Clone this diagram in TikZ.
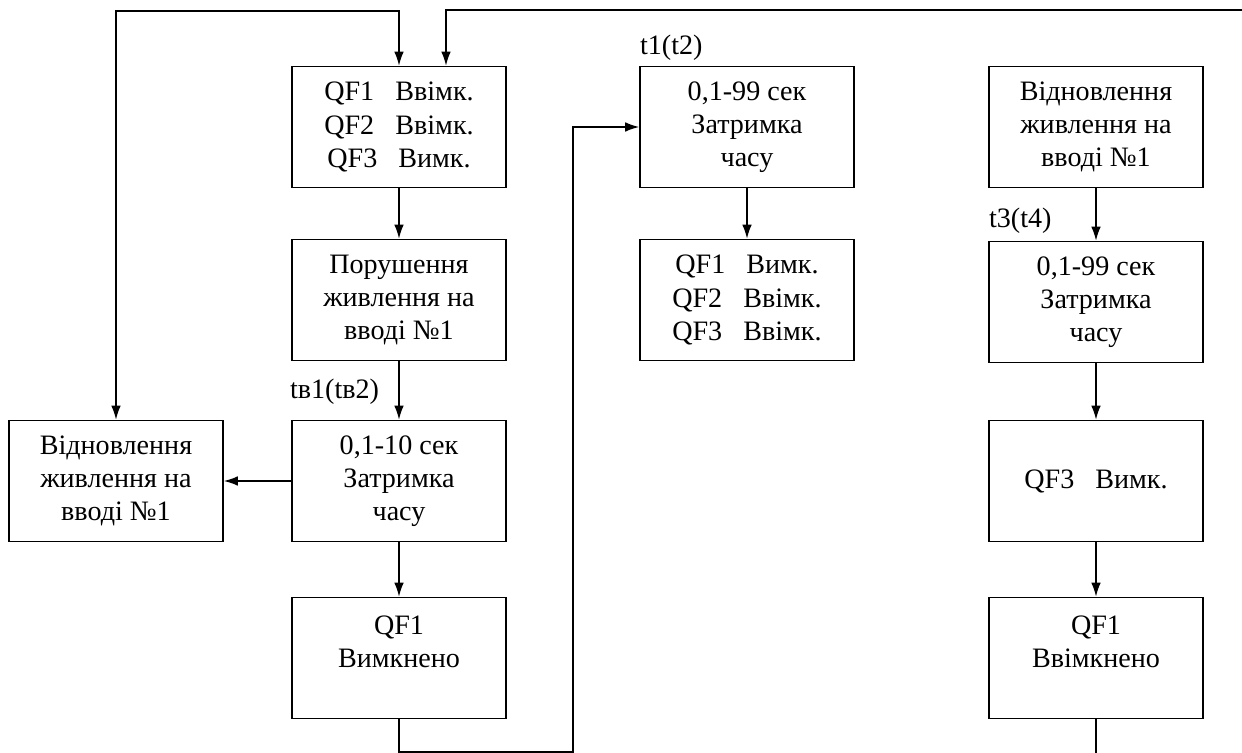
\documentclass[tikz,border=0pt]{standalone}
\usepackage{fontspec}
\setmainfont{Liberation Serif}
\usetikzlibrary{arrows.meta,calc}

\begin{document}
\begin{tikzpicture}[x=0.02cm, y=-0.02cm, line width=0.9pt,
  blk/.style={draw, align=center, minimum width=4.28cm, minimum height=2.42cm,
    inner sep=0pt, font=\fontsize{16}{18.8}\selectfont},
  lbl/.style={anchor=base west, inner sep=0pt, font=\fontsize{16}{18.8}\selectfont},
  >={Latex[length=8pt,width=5.5pt]}]
\useasboundingbox (0,0) rectangle (1242,753);

\node [blk] (on1)    at (399,127)  {QF1\hspace{0.75em}Ввімк.\\QF2\hspace{0.75em}Ввімк.\\QF3\hspace{0.75em}Вимк.};
\node [blk] (fail1)  at (399,300)  {Порушення\\живлення на\\вводі №1};
\node [blk] (delay1) at (399,481)  {0,1-10 сек\\Затримка\\часу};
\node [blk] (rest1)  at (116,481)  {Відновлення\\живлення на\\вводі №1};
\node [blk] (off1)   at (399,658)  {QF1\\Вимкнено\\~};

\node [blk] (delay2) at (747,127)  {0,1-99 сек\\Затримка\\часу};
\node [blk] (sw2)    at (747,300)  {QF1\hspace{0.75em}Вимк.\\QF2\hspace{0.75em}Ввімк.\\QF3\hspace{0.75em}Ввімк.};

\node [blk] (rest2)  at (1096,127) {Відновлення\\живлення на\\вводі №1};
\node [blk] (delay3) at (1096,302) {0,1-99 сек\\Затримка\\часу};
\node [blk] (off3)   at (1096,481) {QF3\hspace{0.75em}Вимк.};
\node [blk] (back1)  at (1096,658) {QF1\\Ввімкнено\\~};

\node [lbl] (tv12) at ($(delay1.north west)+(-2,-21)$) {tв1(tв2)};
\node [lbl] (t12)  at ($(delay2.north west)+(0,-11)$)  {t1(t2)};
\node [lbl] (t34)  at ($(delay3.north west)+(0,-13)$)  {t3(t4)};

\path [->] (on1) edge (fail1) (fail1) edge (delay1) (delay1) edge (rest1)
  (delay1) edge (off1) (delay2) edge (sw2) (rest2) edge (delay3)
  (delay3) edge (off3) (off3) edge (back1);

% loops
\coordinate (topL) at (116,11);
\coordinate (topR) at (1242,10);
\coordinate (inR)  at ($(on1.north)+(47,0)$);
\coordinate (lowL) at (573,752);
\coordinate (lowR) at (1096,753);

\draw [<->] (rest1) -- (topL) -| (on1);
\draw [->] (topR) -| (inR);
\draw [->] (off1) |- (lowL) |- (delay2);
\draw (back1) -- (lowR);

\end{tikzpicture}
\end{document}
